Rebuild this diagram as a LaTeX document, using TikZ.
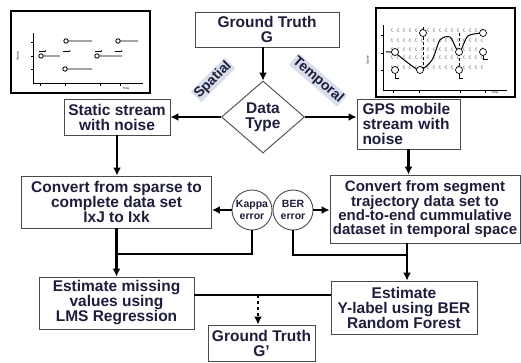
\documentclass[tikz,border=0pt]{standalone}
\usepackage{fontspec}
\setmainfont{Liberation Sans}
\usepackage{tikz}
\usetikzlibrary{arrows.meta,positioning,calc,shapes.geometric}
\definecolor{tnavy}{HTML}{1E1E3C}
\definecolor{tedge}{HTML}{4A4A4A}
\definecolor{tshade}{HTML}{D8DEEA}
\tikzset{
 box/.style={draw=tedge,line width=0.9pt,align=center,fill=white,text=tnavy,
   font=\fontsize{15.5}{15}\selectfont\bfseries,inner sep=1pt},
 decision/.style={box,diamond,aspect=1.15,inner sep=0pt,minimum width=83pt,minimum height=72pt},
 errcirc/.style={box,circle,minimum size=40pt,inner sep=0pt,font=\fontsize{10.5}{12}\selectfont\bfseries},
 arrow/.style={-{Latex[length=8pt,width=8pt]},line width=2.6pt,draw=black},
 link/.style={line width=2.6pt,draw=black},
 tag/.style={fill=tshade,text=tnavy,font=\fontsize{14}{14}\selectfont\bfseries,inner sep=1pt},
 plotframe/.style={draw=black,line width=2.6pt,fill=white},
 traj/.style={draw=black,line width=0.7pt},
 tiny/.style={font=\fontsize{3}{3}\selectfont,inner sep=0pt}
}
\begin{document}
\begin{tikzpicture}[x=1pt,y=-1pt]
 \useasboundingbox (0,0) rectangle (521,362);
 % spatial sketch
 \draw[plotframe] (11,11) rectangle (150,93);
 \draw[traj] (33,33) -- (33,83) -- (143,83);
 \foreach \y in {42,56,69} \draw[traj] (31,\y) -- (33,\y);
 \foreach \x in {40,65,100,120} \draw[traj] (\x,83) -- (\x,86);
 \foreach \x/\y/\e in {66/41/92,41/56/60,65/69/92,97/56/122,118/41/138}
   \draw[traj,line width=0.9pt] (\x,\y) circle (2.2) ++(2.2,0) -- (\e,\y);
 \foreach \a in {39,63,95,115} \draw[traj,-{Latex[length=2pt]}] (\a,51) -- ++(8,0);
 \node[tiny,rotate=90] (spaceA) at (18,56) {Space};
 \node[tiny] (timeA) at (126,88) {Time};
 % temporal sketch
 \draw[plotframe] (376,8) rectangle (515,97);
 \draw[traj] (383,25) -- (383,90) -- (507,90);
 \foreach \y in {35,53,70} \draw[traj] (381,\y) -- (383,\y);
 \foreach \x in {393,419,460,485} \draw[traj] (\x,90) -- (\x,93);
 \foreach \y in {33,43,52,60,70}
   \foreach \x in {392,398,...,486}
     \draw[gray,line width=0.4pt] (\x+1,\y-1.5) arc (60:300:1.5);
 \draw[traj,densely dashed,line width=0.4pt] (423,27) -- (423,70) (459,33) -- (459,72);
 \draw[traj,line width=1pt] plot[smooth] coordinates {(386,52) (395,53) (408,63) (420,70)
   (432,60) (440,40) (450,37) (456,48) (460,52) (468,36) (483,33)};
 \foreach \p in {(395,52),(395,70),(420,70),(459,52),(459,70),(483,52),(483,33),(423,33)}
   \draw[traj,fill=white] \p circle (3.5);
 \draw[traj] (395,74) -- (395,78) -- (399,78) (459,74) -- (459,78) -- (463,78)
   (483,56) -- (483,59) -- (488,59);
 \node[tiny,rotate=90] (spaceB) at (368,60) {Space};
 \node[tiny] (timeB) at (495,92) {Time};
 % flow
 \node[box,minimum width=144pt,minimum height=35pt] (truth) at (267,29.5) {Ground Truth\\G};
 \node[decision] (dtype) at (263,117) {Data\\Type};
 \node[box,minimum width=106pt,minimum height=36pt] (static) at (117,117) {Static stream\\with noise};
 \node[box,minimum width=103pt,minimum height=50pt,text width=92pt,align=left] (gps) at (408.5,124) {GPS mobile\\stream with\\noise};
 \node[box,minimum width=190pt,minimum height=52pt] (sparse) at (116.5,202) {Convert from sparse to\\complete data set\\IxJ to Ixk};
 \node[box,minimum width=190pt,minimum height=68pt,font=\fontsize{15}{14}\selectfont\bfseries] (segment) at (425,209) {Convert from segment\\trajectory data set to\\end-to-end cummulative\\dataset in temporal space};
 \node[errcirc] (kappa) at (252,210) {Kappa\\error};
 \node[errcirc] (ber) at (293,210) {BER\\error};
 \node[box,minimum width=155pt,minimum height=52pt] (lms) at (116.5,303) {Estimate missing\\values using\\LMS Regression};
 \node[box,minimum width=146pt,minimum height=53pt] (forest) at (404,307.5) {Estimate\\Y-label using BER\\Random Forest};
 \node[box,minimum width=107pt,minimum height=36pt] (truthb) at (261.5,343) {Ground Truth\\G'};
 \node[tag,rotate=45] (spatial) at (213,80) {Spatial};
 \node[tag,rotate=-41] (temporal) at (318,80) {Temporal};
 \coordinate (joinL) at (116.5,254);
 \coordinate (joinR) at (407,255);
 \coordinate (joinB) at (258,295);
 \draw[arrow] (dtype.north |- truth.south) -- (dtype.north);
 \draw[arrow] (dtype.west) -- (static.east);
 \draw[arrow] (dtype.east) -- (dtype.east -| gps.west);
 \draw[arrow] (static.south) -- (static.south |- sparse.north);
 \draw[arrow] (gps.south) -- (gps.south |- segment.north);
 \draw[arrow] (kappa.west) -- (kappa.west -| sparse.east);
 \draw[arrow] (ber.east) -- (ber.east -| segment.west);
 \draw[arrow] (sparse.south) -- (lms.north);
 \draw[link] (kappa.south) |- (joinL);
 \draw[arrow] (joinR |- segment.south) -- (joinR |- forest.north);
 \draw[link] (ber.south) |- (joinR);
 \draw[link] (lms.east |- joinB) -- (forest.west |- joinB);
 \draw[arrow,dashed] (joinB) -- (joinB |- truthb.north);
\end{tikzpicture}
\end{document}
